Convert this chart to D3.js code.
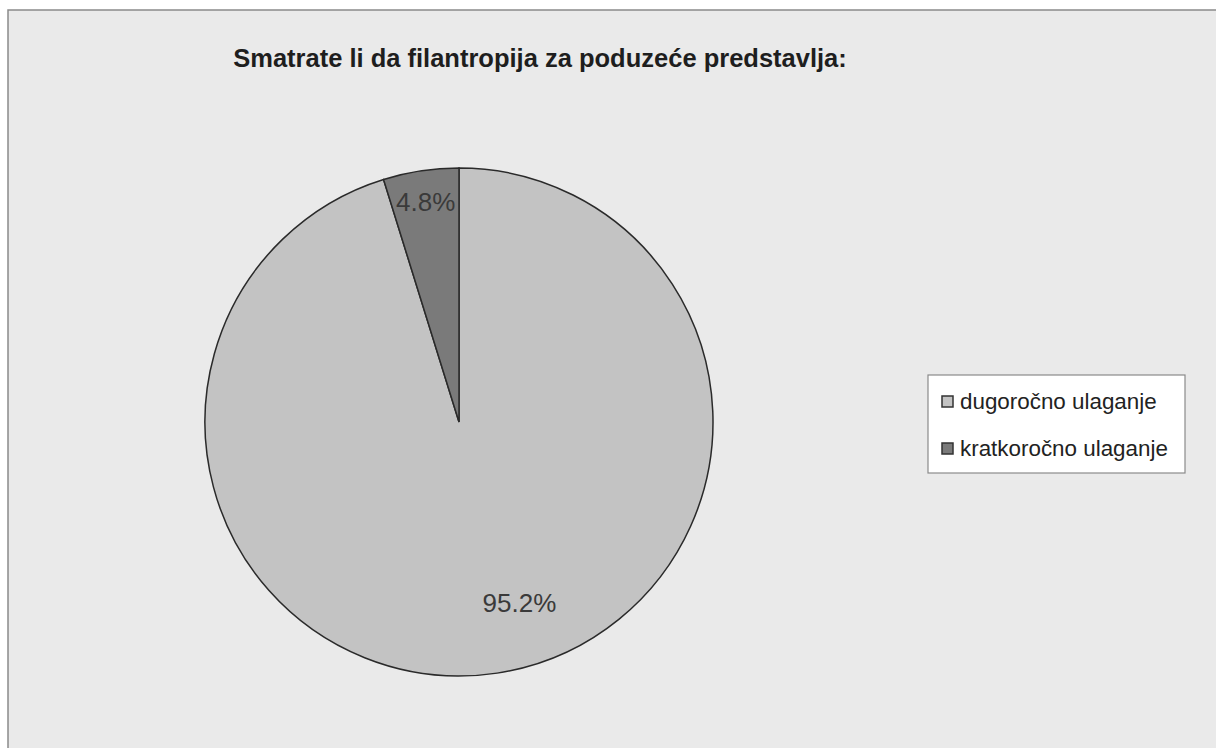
<!DOCTYPE html>
<html>
<head>
<meta charset="utf-8">
<script src="https://cdn.jsdelivr.net/npm/d3@7"></script>
<style>
  body { margin: 0; background: #ffffff; }
  svg { display: block; font-family: "Liberation Sans", Arial, sans-serif; }
</style>
</head>
<body>
<svg id="chart" width="1216" height="748"></svg>
<script>
const title = "Smatrate li da filantropija za poduzeće predstavlja:";
const categories = ["dugoročno ulaganje", "kratkoročno ulaganje"];
const values = [95.2, 4.8];
const colors = ["#c3c3c3", "#7a7a7a"];

const width = 1216;
const height = 748;
const svg = d3.select("#chart");

// chart area background + frame
svg.append("rect")
  .attr("x", 8).attr("y", 10)
  .attr("width", width + 10).attr("height", height + 10)
  .attr("fill", "#eaeaea")
  .attr("stroke", "#8a8a8a")
  .attr("stroke-width", 1.5);

svg.append("text")
  .attr("x", 540).attr("y", 67)
  .attr("text-anchor", "middle")
  .attr("font-size", 25.5)
  .attr("font-weight", "bold")
  .attr("fill", "#1e1e1e")
  .text(title);

const cx = 459, cy = 422, radius = 254;

let pieData = categories.map((c, i) => ({ name: c, value: values[i], color: colors[i] }));

let pie = d3.pie()
  .sort(null)
  .value((d) => d.value)
  .startAngle(0)
  .endAngle(2 * Math.PI);

let arc = d3.arc().innerRadius(0).outerRadius(radius);

let g = svg.append("g").attr("transform", `translate(${cx},${cy})`);

g.selectAll("path")
  .data(pie(pieData))
  .enter()
  .append("path")
  .attr("d", arc)
  .attr("fill", (d) => d.data.color)
  .attr("stroke", "#2a2a2a")
  .attr("stroke-width", 1.5);

// percentage labels (radius factor along mid-angle, plus a small sideways nudge)
const labelR = [0.72, 0.875];
const labelDx = [33, 0];
g.selectAll("text.pct")
  .data(pie(pieData))
  .enter()
  .append("text")
  .attr("class", "pct")
  .attr("transform", (d, i) => {
    let a = (d.startAngle + d.endAngle) / 2;
    let r = radius * labelR[i];
    return `translate(${r * Math.sin(a) + labelDx[i]},${-r * Math.cos(a)})`;
  })
  .attr("text-anchor", "middle")
  .attr("dy", "0.35em")
  .attr("font-size", 26)
  .attr("fill", "#3a3a3a")
  .text((d) => d.data.value.toFixed(1) + "%");

// legend
let legend = svg.append("g").attr("transform", "translate(928,375)");
legend.append("rect")
  .attr("width", 257).attr("height", 98)
  .attr("fill", "#ffffff")
  .attr("stroke", "#8a8a8a")
  .attr("stroke-width", 1.2);

let items = legend.selectAll("g.item")
  .data(pieData)
  .enter()
  .append("g")
  .attr("class", "item")
  .attr("transform", (d, i) => `translate(14,${26 + i * 47})`);

items.append("rect")
  .attr("x", 0).attr("y", -5)
  .attr("width", 11).attr("height", 11)
  .attr("fill", (d) => d.color)
  .attr("stroke", "#333")
  .attr("stroke-width", 1.5);

items.append("text")
  .attr("x", 18).attr("y", 0)
  .attr("dy", "0.35em")
  .attr("font-size", 22.4)
  .attr("fill", "#222")
  .text((d) => d.name);
</script>
</body>
</html>
